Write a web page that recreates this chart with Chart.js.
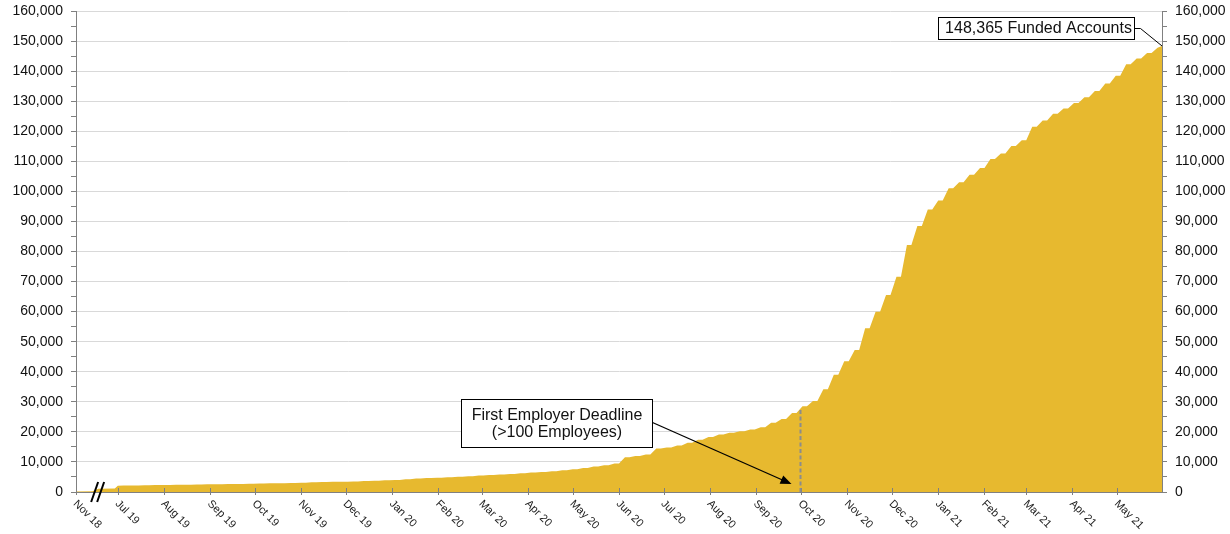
<!DOCTYPE html>
<html>
<head>
<meta charset="utf-8">
<title>Funded Accounts</title>
<script src="https://cdn.jsdelivr.net/npm/chart.js@4.4.1/dist/chart.umd.min.js"></script>
<style>
  html, body { margin: 0; padding: 0; background: #ffffff; }
  canvas { display: block; }
</style>
</head>
<body>
<canvas id="chart" width="1230" height="534"></canvas>
<script>
// Day numbers count from Mon 1 Jul 2019 (day 0). The pilot period before
// launch is shown compressed to the left of the axis break.
const monthLabels = ['Nov 18', 'Jul 19', 'Aug 19', 'Sep 19', 'Oct 19', 'Nov 19', 'Dec 19',
  'Jan 20', 'Feb 20', 'Mar 20', 'Apr 20', 'May 20', 'Jun 20', 'Jul 20', 'Aug 20', 'Sep 20',
  'Oct 20', 'Nov 20', 'Dec 20', 'Jan 21', 'Feb 21', 'Mar 21', 'Apr 21', 'May 21'];
const monthDays = [-28, 0, 31, 62, 92, 123, 153, 184, 215, 244, 275, 305, 336, 366, 397,
  428, 458, 489, 519, 550, 581, 609, 640, 670];

// Pilot accounts (Nov 2018 - Jun 2019) and the launch-day total
const pilotDays = [-28, -17, -13, -2, 0];
const pilotValues = [150, 250, 1050, 1150, 2050];

// Cumulative funded accounts at the close of each week (Fridays), from Jul 2019
const weeklyTotals = [
  2150, 2200, 2250, 2290, 2330, 2380, 2420, 2480, 2540, 2600,
  2650, 2700, 2760, 2820, 2880, 2950, 3020, 3100, 3230, 3300,
  3370, 3430, 3520, 3620, 3750, 3880, 4020, 4200, 4450, 4620,
  4760, 4900, 5050, 5250, 5450, 5650, 5820, 5980, 6200, 6450,
  6650, 6900, 7200, 7600, 7950, 8500, 8900, 9500, 11600, 12000,
  12500, 14500, 14800, 15500, 16400, 17400, 18300, 19100, 19700, 20200,
  20800, 21500, 23000, 24300, 26300, 28500, 30300, 34200, 39000, 43500,
  47200, 54500, 60000, 65500, 71600, 82150, 88500, 94000, 97000, 101000,
  103000, 105500, 107800, 110800, 112640, 115100, 117000, 121500, 123600, 125800,
  127600, 129400, 131300, 133400, 135900, 138500, 142300, 144200, 146000, 147800
];
const lastDay = 700;          // Mon 31 May 2021
const lastTotal = 148365;

const deadlineDay = 457;      // 30 Sep 2020
const deadlineTotal = 28000;

const FONT = '"Liberation Sans", Arial, Helvetica, sans-serif';
const GOLD = '#E7B92F';
const AXIS = '#808080';

// Build the series: totals rise through the week and hold flat over the weekend
const points = pilotDays.map((d, i) => ({ x: d, y: pilotValues[i] }));
weeklyTotals.forEach((v, i) => {
  const fri = 7 * i + 4;
  const mon = 7 * i + 7;
  points.push({ x: fri, y: v });
  if (mon < lastDay) points.push({ x: mon, y: v });
});
points.push({ x: lastDay, y: lastTotal });

const yTickValues = [];
for (let v = 0; v <= 160000; v += 5000) yTickValues.push(v);

function yAxis(position) {
  return {
    type: 'linear',
    position: position,
    min: 0,
    max: 160000,
    afterFit: s => {
      s.width = position === 'left' ? 76 : 68;
      s.paddingTop = 0;
      s.paddingBottom = 0;
    },
    afterBuildTicks: s => { s.ticks = yTickValues.map(v => ({ value: v })); },
    ticks: {
      autoSkip: false,
      padding: 8,
      color: '#111111',
      font: { family: FONT, size: 14 },
      callback: v => (v % 10000 === 0 ? v.toLocaleString('en-US') : '')
    },
    grid: {
      drawOnChartArea: position === 'left',
      color: c => (c.tick && c.tick.value % 10000 === 0 ? '#d9d9d9' : 'rgba(0,0,0,0)'),
      lineWidth: 1,
      tickColor: AXIS,
      tickLength: 5
    },
    border: { display: true, color: AXIS, width: 1, z: 1 }
  };
}

const overlay = {
  id: 'overlay',
  afterDraw(chart) {
    const ctx = chart.ctx;
    const xs = chart.scales.x;
    const ys = chart.scales.y;
    const y0 = ys.getPixelForValue(0);
    ctx.save();

    // month tick marks across the x axis
    ctx.strokeStyle = AXIS;
    ctx.lineWidth = 1;
    monthDays.forEach(d => {
      const x = Math.round(xs.getPixelForValue(d)) + 0.5;
      ctx.beginPath();
      ctx.moveTo(x, y0 - 4);
      ctx.lineTo(x, y0 + 3);
      ctx.stroke();
    });

    // slanted month labels
    ctx.fillStyle = '#222222';
    ctx.font = '11px ' + FONT;
    ctx.textAlign = 'left';
    ctx.textBaseline = 'middle';
    monthDays.forEach((d, i) => {
      const x = xs.getPixelForValue(d);
      ctx.save();
      ctx.translate(x - 1, y0 + 10);
      ctx.rotate(Math.PI / 4);
      ctx.fillText(monthLabels[i], 0, 0);
      ctx.restore();
    });

    // axis break between the pilot and the launch
    const bx = xs.getPixelForValue(-13.5);
    ctx.strokeStyle = '#000000';
    ctx.lineWidth = 2;
    [-3, 3].forEach(off => {
      ctx.beginPath();
      ctx.moveTo(bx + off - 3.5, y0 + 10);
      ctx.lineTo(bx + off + 3.5, y0 - 10);
      ctx.stroke();
    });

    // first employer deadline marker
    const dx = Math.round(xs.getPixelForValue(deadlineDay)) + 0.5;
    ctx.strokeStyle = '#8c8c8c';
    ctx.lineWidth = 2;
    ctx.setLineDash([4, 2.5]);
    ctx.beginPath();
    ctx.moveTo(dx, y0);
    ctx.lineTo(dx, ys.getPixelForValue(deadlineTotal));
    ctx.stroke();
    ctx.setLineDash([]);

    // deadline callout
    const bw = 191, bh = 48;
    const bl = Math.round(dx - 340) + 0.5;
    const bt = Math.round(y0 - 93) + 0.5;
    ctx.fillStyle = '#ffffff';
    ctx.fillRect(bl, bt, bw, bh);
    ctx.strokeStyle = '#000000';
    ctx.lineWidth = 1;
    ctx.strokeRect(bl, bt, bw, bh);
    ctx.fillStyle = '#111111';
    ctx.font = '16px ' + FONT;
    ctx.textAlign = 'center';
    ctx.textBaseline = 'middle';
    ctx.fillText('First Employer Deadline', bl + bw / 2, bt + 16);
    ctx.fillText('(>100 Employees)', bl + bw / 2, bt + 33);

    // arrow from the callout to the deadline
    const sx = bl + bw, sy = bt + 23;
    const tx = dx - 9, ty = y0 - 8;
    const ang = Math.atan2(ty - sy, tx - sx);
    ctx.lineWidth = 1.3;
    ctx.beginPath();
    ctx.moveTo(sx, sy);
    ctx.lineTo(tx - 8 * Math.cos(ang), ty - 8 * Math.sin(ang));
    ctx.stroke();
    ctx.fillStyle = '#000000';
    ctx.beginPath();
    ctx.moveTo(tx, ty);
    ctx.lineTo(tx - 11 * Math.cos(ang) + 4.5 * Math.sin(ang), ty - 11 * Math.sin(ang) - 4.5 * Math.cos(ang));
    ctx.lineTo(tx - 11 * Math.cos(ang) - 4.5 * Math.sin(ang), ty - 11 * Math.sin(ang) + 4.5 * Math.cos(ang));
    ctx.closePath();
    ctx.fill();

    // total funded accounts callout
    const ex = xs.getPixelForValue(lastDay);
    const ey = ys.getPixelForValue(lastTotal);
    const tw = 196, th = 22;
    const tr = Math.round(ex - 28) + 0.5;
    const tt = Math.round(ey - 29) + 0.5;
    ctx.strokeStyle = '#000000';
    ctx.lineWidth = 1;
    ctx.beginPath();
    ctx.moveTo(tr, tt + th / 2);
    ctx.lineTo(tr + 6, tt + th / 2);
    ctx.lineTo(ex, ey);
    ctx.stroke();
    ctx.fillStyle = '#ffffff';
    ctx.fillRect(tr - tw, tt, tw, th);
    ctx.strokeRect(tr - tw, tt, tw, th);
    ctx.fillStyle = '#111111';
    ctx.textAlign = 'center';
    ctx.fillText(lastTotal.toLocaleString('en-US') + ' Funded Accounts', tr - tw / 2 + 2, tt + th / 2 + 0.5);

    ctx.restore();
  }
};

new Chart(document.getElementById('chart'), {
  type: 'line',
  data: {
    datasets: [{
      label: 'Funded Accounts',
      data: points,
      yAxisID: 'y',
      fill: 'origin',
      backgroundColor: GOLD,
      borderColor: GOLD,
      borderWidth: 0,
      pointRadius: 0,
      tension: 0
    }]
  },
  options: {
    responsive: false,
    animation: false,
    events: [],
    layout: { padding: { top: 11, left: 0, right: 0, bottom: 0 } },
    plugins: { legend: { display: false }, tooltip: { enabled: false } },
    scales: {
      x: {
        type: 'linear',
        min: -28,
        max: lastDay,
        afterFit: s => { s.height = 42; },
        afterBuildTicks: s => { s.ticks = monthDays.map(v => ({ value: v })); },
        ticks: { display: false },
        grid: { display: false },
        border: { display: true, color: AXIS, width: 1, z: 1 }
      },
      y: yAxis('left'),
      y2: yAxis('right')
    }
  },
  plugins: [overlay]
});
</script>
</body>
</html>
